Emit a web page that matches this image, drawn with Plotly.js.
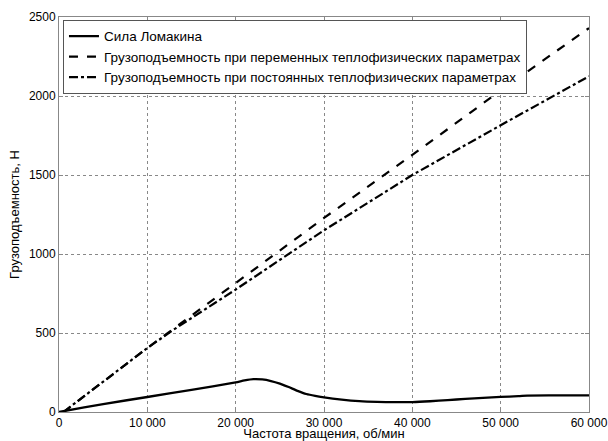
<!DOCTYPE html>
<html><head><meta charset="utf-8">
<script src="https://cdn.plot.ly/plotly-3.0.1.min.js"></script>
<style>body{margin:0;background:#fff}#c{width:608px;height:441px}</style>
</head><body><div id="c"></div>
<script>
const lomX = [0, 500, 5000, 10000, 15000, 20000, 21000, 22000, 23000, 24000, 25000, 26000, 27000, 28000, 29000, 30000, 32000, 34000, 36000, 38000, 40000, 42000, 44000, 46000, 48000, 50000, 52000, 53000, 56000, 60000];
const lomY = [0, 5, 50, 95, 140, 188, 200, 208, 206, 196, 180, 158, 134, 114, 102, 93, 79, 69, 64, 62, 63, 68, 75, 83, 90, 96, 100, 104, 105, 105];
const varX = [500, 10000, 20000, 30000, 40000, 50000, 60000];
const varY = [0, 405, 816, 1228, 1627, 2035, 2430];
const constX = [500, 10000, 13000, 20000, 30000, 40000, 50000, 60000];
const constY = [0, 405, 522, 775, 1150, 1500, 1815, 2125];
const names = ["Сила Ломакина", "Грузоподъемность при переменных теплофизических параметрах", "Грузоподъемность при постоянных теплофизических параметрах"];
const xTicks = [0, 10000, 20000, 30000, 40000, 50000, 60000];
const xTickText = ["0", "10 000", "20 000", "30 000", "40 000", "50 000", "60 000"];
const yTicks = [0, 500, 1000, 1500, 2000, 2500];

const FONT = "Liberation Sans";
const traces = [
  {x: lomX, y: lomY, name: names[0], mode: "lines", line: {color: "#000", width: 2.3, shape: "spline", smoothing: 0.6}},
  {x: varX, y: varY, name: names[1], mode: "lines", line: {color: "#000", width: 2.2, dash: "dash"}},
  {x: constX, y: constY, name: names[2], mode: "lines", line: {color: "#000", width: 2.2, dash: "dashdot"}}
];
const ax = {
  showline: true, mirror: "ticks", linecolor: "#888", linewidth: 1,
  showgrid: true, gridcolor: "#888", griddash: "dot", gridwidth: 1,
  ticks: "inside", ticklen: 4, tickcolor: "#888", zeroline: false,
  tickfont: {family: FONT, size: 12, color: "#000"}
};
const layout = {
  width: 608, height: 441,
  margin: {l: 59, r: 19, t: 17, b: 29},
  paper_bgcolor: "#fff", plot_bgcolor: "#fff",
  font: {family: FONT, size: 13, color: "#000"},
  xaxis: Object.assign({}, ax, {range: [0, 60000], tickvals: xTicks, ticktext: xTickText,
    title: {text: "Частота вращения, об/мин", standoff: 0, font: {family: FONT, size: 13}}}),
  yaxis: Object.assign({}, ax, {range: [0, 2500], tickvals: yTicks,
    title: {text: "Грузоподъемность, Н", standoff: 6, font: {family: FONT, size: 13}}}),
  showlegend: true,
  legend: {x: 0.0075, y: 0.993, xanchor: "left", yanchor: "top", bgcolor: "#fff",
    bordercolor: "#555", borderwidth: 1, font: {family: FONT, size: 13.5}, tracegroupgap: 0, itemwidth: 30}
};
Plotly.newPlot("c", traces, layout, {displayModeBar: false, staticPlot: true});
</script></body></html>
